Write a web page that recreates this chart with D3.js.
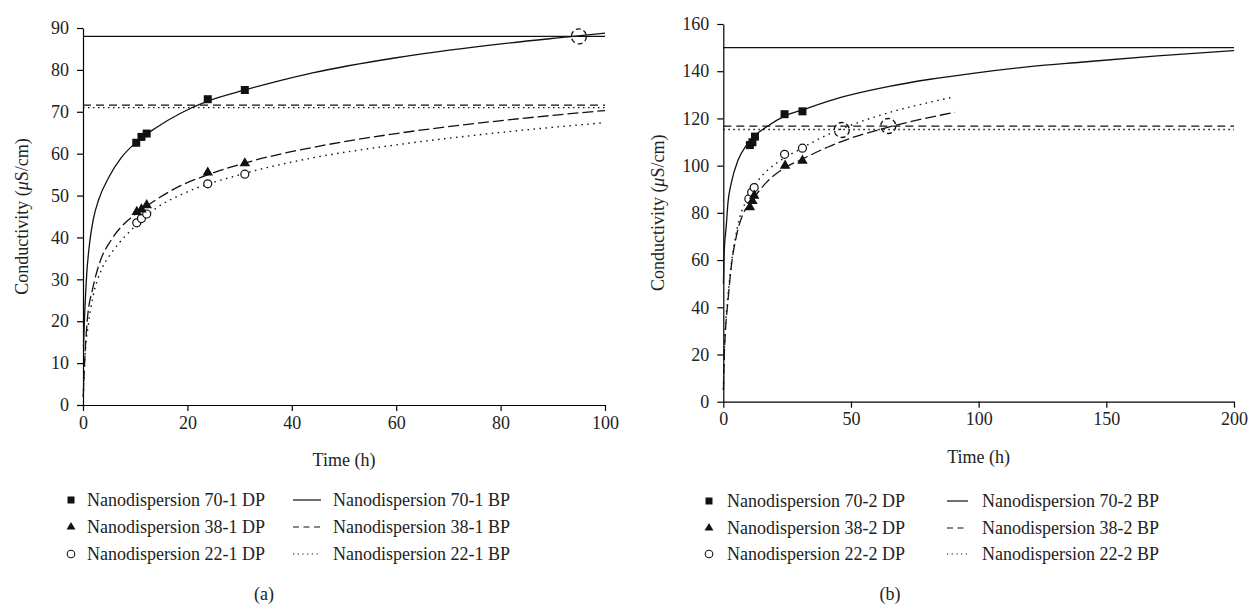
<!DOCTYPE html>
<html>
<head>
<meta charset="utf-8">
<title>Conductivity vs time</title>
<style>
  body { margin: 0; background: #fff; }
  svg { display: block; font-family: "Liberation Serif", "Times New Roman", serif; }
  .axis path, .axis line { stroke: #000; stroke-width: 1.2; }
  .axis text { font-size: 18px; fill: #222; font-family: "Liberation Serif", serif; }
</style>
</head>
<body>
<svg width="1250" height="605"></svg>
<script src="https://cdn.jsdelivr.net/npm/d3@7"></script>
<script>

// ---- panel (a) data ----
var a70dp = [[10.2, 62.6], [11.2, 64.0], [12.2, 64.8], [23.9, 73.0], [31.0, 75.2]];
var a38dp = [[10.3, 46.1], [11.2, 46.7], [12.2, 47.7], [23.9, 55.5], [31.0, 57.7]];
var a22dp = [[10.3, 43.5], [11.2, 44.5], [12.2, 45.6], [23.9, 52.8], [31.0, 55.1]];
var a70bp = [[0.1, 14], [0.33, 22], [0.7, 31], [1.3, 39], [2, 44.5], [3, 49], [5, 54.5],
             [7.3, 59], [10, 62.5], [14, 66.2], [18.6, 69.6], [24, 72.6], [31, 75.2],
             [44, 79.3], [60, 82.9], [78, 85.9], [93, 87.9], [100, 88.8]];
var a38bp = [[0.05, 2], [0.2, 7], [0.8, 20], [1.9, 28], [3.2, 34], [5.4, 39.4], [8, 43.4],
             [10.3, 45.8], [14, 49], [18.6, 52.3], [24, 55], [32, 58.1], [47, 62.2],
             [60, 64.8], [78, 67.6], [100, 70.3]];
var a22bp = [[0.05, 2], [0.4, 12], [1, 19], [1.9, 25.8], [3.5, 32.2], [5.4, 36.2], [8, 40.2],
             [10.3, 43], [14, 47], [18.6, 50.1], [30.7, 55.2], [44, 59.0], [60, 62.1],
             [78, 64.8], [100, 67.4]];
var aLevels = [88, 71.6, 71.0];          // 70-1, 38-1, 22-1 plateau
var aMarks = [[95, 88]];                 // dashed circles
var aXTicks = [0, 20, 40, 60, 80, 100];
var aYTicks = [0, 10, 20, 30, 40, 50, 60, 70, 80, 90];
var aNames = ["70-1", "38-1", "22-1"];

// ---- panel (b) data ----
var b70dp = [[10.4, 108.7], [11.4, 109.9], [12.4, 112.3], [24.0, 121.8], [31.0, 123.0]];
var b38dp = [[10.4, 82.4], [11.4, 85.0], [12.1, 87.3], [24.2, 100.0], [31.0, 102.1]];
var b22dp = [[10.0, 85.9], [11.1, 88.7], [12.1, 90.7], [24.0, 104.8], [31.0, 107.4]];
var b70bp = [[0.05, 50], [0.3, 62], [1.2, 75], [1.8, 84], [3.1, 92.5], [5.8, 102.4], [9, 108.5],
             [12, 112.3], [17, 116.5], [24, 121.0], [31, 123.6], [46, 128.9], [65, 133.6],
             [81, 136.6], [97, 139.0], [120, 141.9], [140, 143.8], [170, 146.5], [200, 148.7]];
var b38bp = [[0.05, 5], [0.27, 16], [0.8, 29], [1.85, 43], [3.1, 57], [5.1, 70], [7.7, 79.5],
             [10.4, 83.8], [12.1, 86.5], [17, 93], [24, 99.0], [31, 102.8], [41, 107.9],
             [46, 110.1], [65, 116.4], [78, 119.8], [90.7, 122.6]];
var b22bp = [[0.05, 5], [0.3, 18], [0.8, 31], [1.85, 45], [3.1, 58], [4.5, 68], [6.4, 78],
             [8.5, 84], [11, 89.5], [15, 95.5], [21.4, 101.5], [31, 107.5], [37, 111.1],
             [46.4, 115.6], [58.7, 120.4], [70, 124.0], [78.3, 126.2], [90.7, 129.2]];
var bLevels = [150, 116.7, 115.3];
var bMarks = [[46.4, 115.1], [64.6, 116.8]];
var bXTicks = [0, 50, 100, 150, 200];
var bYTicks = [0, 20, 40, 60, 80, 100, 120, 140, 160];
var bNames = ["70-2", "38-2", "22-2"];

var svg = d3.select("svg");

var styles = [
    { dash: null, legDash: null, width: 1.3 },
    { dash: "11,4", legDash: "6,4.5", width: 1.3 },
    { dash: "1.5,4.5", legDash: "1.2,3.5", width: 1.4 }
];

function drawPanel(p) {
    var x = d3.scaleLinear().domain(p.xDomain).range(p.xRange),
        y = d3.scaleLinear().domain(p.yDomain).range(p.yRange);

    var g = svg.append("g");

    g.append("g")
        .attr("class", "axis")
        .attr("transform", "translate(0," + p.yRange[0] + ")")
        .call(d3.axisBottom(x).tickValues(p.xTicks).tickSize(6).tickPadding(5).tickSizeOuter(0));

    g.append("g")
        .attr("class", "axis")
        .attr("transform", "translate(" + p.xRange[0] + ",0)")
        .call(d3.axisLeft(y).tickValues(p.yTicks).tickSize(6).tickPadding(8).tickSizeOuter(0));

    // plateau lines
    p.levels.forEach(function(v, i) {
        g.append("line")
            .attr("x1", x(p.xDomain[0])).attr("x2", x(p.xDomain[1]))
            .attr("y1", y(v)).attr("y2", y(v))
            .attr("stroke", "#111")
            .attr("stroke-width", i === 0 ? 1.4 : 1.3)
            .attr("stroke-dasharray", i === 0 ? null : (i === 1 ? "8,5" : "1.5,3.5"));
    });

    // BP curves
    var line = d3.line()
        .x(function(d) { return x(d[0]); })
        .y(function(d) { return y(d[1]); })
        .curve(d3.curveMonotoneX);

    p.curves.forEach(function(c, i) {
        g.append("path")
            .attr("d", line(c))
            .attr("fill", "none")
            .attr("stroke", "#111")
            .attr("stroke-width", styles[i].width)
            .attr("stroke-dasharray", styles[i].dash);
    });

    // dashed circles at crossings
    g.selectAll(".mark").data(p.marks).enter().append("circle")
        .attr("cx", function(d) { return x(d[0]); })
        .attr("cy", function(d) { return y(d[1]); })
        .attr("r", 7.5)
        .attr("fill", "none")
        .attr("stroke", "#111")
        .attr("stroke-width", 1.3)
        .attr("stroke-dasharray", "5,3");

    // DP points
    var sq = d3.symbol().type(d3.symbolSquare).size(64),
        tri = d3.symbol().type(d3.symbolTriangle).size(48);

    g.selectAll(".c").data(p.points[2]).enter().append("circle")
        .attr("cx", function(d) { return x(d[0]); })
        .attr("cy", function(d) { return y(d[1]); })
        .attr("r", 4)
        .attr("fill", "#fff")
        .attr("stroke", "#111")
        .attr("stroke-width", 1.2);

    g.selectAll(".t").data(p.points[1]).enter().append("path")
        .attr("d", tri)
        .attr("transform", function(d) { return "translate(" + x(d[0]) + "," + y(d[1]) + ")"; })
        .attr("fill", "#111");

    g.selectAll(".s").data(p.points[0]).enter().append("path")
        .attr("d", sq)
        .attr("transform", function(d) { return "translate(" + x(d[0]) + "," + y(d[1]) + ")"; })
        .attr("fill", "#111");

    // axis titles
    g.append("text")
        .attr("x", (p.xRange[0] + p.xRange[1]) / 2)
        .attr("y", p.yRange[0] + 61)
        .attr("text-anchor", "middle")
        .attr("font-size", 18)
        .attr("fill", "#222")
        .text("Time (h)");

    var yl = g.append("text")
        .attr("transform", "translate(" + p.yLabelX + "," + ((p.yRange[0] + p.yRange[1]) / 2) + ") rotate(-90)")
        .attr("text-anchor", "middle")
        .attr("font-size", 18)
        .attr("fill", "#222");
    yl.append("tspan").text("Conductivity (");
    yl.append("tspan").attr("font-style", "italic").text("\u03bc");
    yl.append("tspan").text("S/cm)");

    // legend
    var leg = g.append("g");
    p.legendRows.forEach(function(ry, i) {
        var mx = p.legend.marker;
        if (i === 0) {
            leg.append("path").attr("d", d3.symbol().type(d3.symbolSquare).size(49))
                .attr("transform", "translate(" + mx + "," + ry + ")").attr("fill", "#111");
        } else if (i === 1) {
            leg.append("path").attr("d", d3.symbol().type(d3.symbolTriangle).size(34))
                .attr("transform", "translate(" + mx + "," + ry + ")").attr("fill", "#111");
        } else {
            leg.append("circle").attr("cx", mx).attr("cy", ry).attr("r", 3.8)
                .attr("fill", "#fff").attr("stroke", "#111").attr("stroke-width", 1.1);
        }
        leg.append("text")
            .attr("x", p.legend.text1).attr("y", ry + 6)
            .attr("font-size", 18).attr("fill", "#222")
            .text("Nanodispersion " + p.names[i] + " DP");
        leg.append("line")
            .attr("x1", p.legend.line[0]).attr("x2", p.legend.line[1])
            .attr("y1", ry).attr("y2", ry)
            .attr("stroke", "#111").attr("stroke-width", 1.2)
            .attr("stroke-dasharray", styles[i].legDash);
        leg.append("text")
            .attr("x", p.legend.text2).attr("y", ry + 6)
            .attr("font-size", 18).attr("fill", "#222")
            .text("Nanodispersion " + p.names[i] + " BP");
    });

    g.append("text")
        .attr("x", p.captionX).attr("y", 600)
        .attr("text-anchor", "middle")
        .attr("font-size", 18).attr("fill", "#222")
        .text(p.caption);
}

drawPanel({
    xDomain: [0, 100], yDomain: [0, 90],
    xRange: [83, 605], yRange: [405, 28],
    xTicks: aXTicks, yTicks: aYTicks,
    levels: aLevels, curves: [a70bp, a38bp, a22bp],
    points: [a70dp, a38dp, a22dp], marks: aMarks,
    names: aNames, yLabelX: 28,
    legendRows: [500, 527, 554],
    legend: { marker: 71, text1: 87, line: [293, 321], text2: 333 },
    caption: "(a)", captionX: 264
});

drawPanel({
    xDomain: [0, 200], yDomain: [0, 160],
    xRange: [723.3, 1234], yRange: [401.7, 24],
    xTicks: bXTicks, yTicks: bYTicks,
    levels: bLevels, curves: [b70bp, b38bp, b22bp],
    points: [b70dp, b38dp, b22dp], marks: bMarks,
    names: bNames, yLabelX: 664,
    legendRows: [501, 528, 554],
    legend: { marker: 709, text1: 727, line: [947, 968], text2: 982 },
    caption: "(b)", captionX: 890
});

</script>
</body>
</html>
